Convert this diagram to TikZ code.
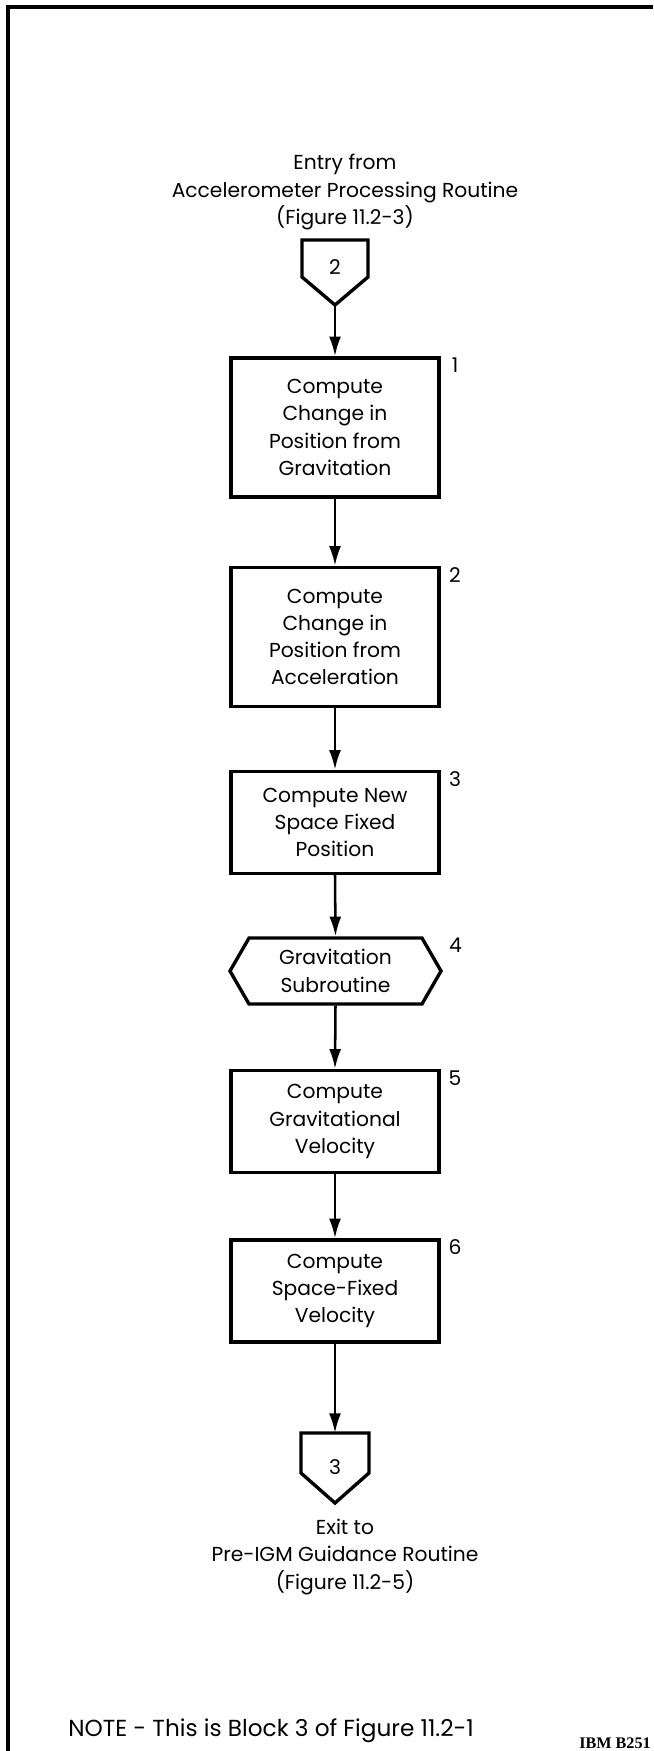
\documentclass[tikz,border=0pt]{standalone}
\usepackage{fontspec}
\setmainfont{Poppins}
\newfontfamily\ibmfont{Liberation Serif}
\usetikzlibrary{positioning,arrows.meta,calc,shapes.symbols}
\newcommand{\flowfont}{\fontsize{14.4}{19.4}\selectfont}

\begin{document}
\begin{tikzpicture}[x=0.025cm, y=-0.025cm,
    txt/.style={inner sep=0pt, align=center, font=\flowfont},
    blk/.style={draw, line width=2.4pt, minimum width=5.2cm, inner sep=0pt, align=center, font=\flowfont},
    tall/.style={minimum height=3.475cm},
    short/.style={minimum height=2.55cm},
    sub/.style={draw, line width=2.4pt, shape=signal, signal to=east and west, signal pointer angle=120,
      minimum width=5.275cm, minimum height=1.65cm, inner sep=0pt, align=center, font=\flowfont},
    outl/.style={line width=2.4pt, line join=miter},
    flow/.style={line width=1.8pt, -{Latex[length=14pt,width=8.5pt]}},
    num/.style={inner sep=0pt, font=\flowfont}]
  \useasboundingbox (0,0) rectangle (653,1751);
  % page frame
  \draw[line width=2.2pt] (8,1751) -- (8,7) -- (653,7);

  % entry connector
  \node[txt] (entry) at (345,192) {Entry from\\Accelerometer Processing Routine\\(Figure 11.2-3)};
  \node[txt] (c2) at (335,267) {2};
  \draw[outl] ($(c2)+(-33,-27)$) -- ++(66,0) -- ++(0,37) -- ++(-33,28) -- ++(-33,-28) -- cycle;
  \coordinate (c2tip) at ($(c2)+(0,38)$);

  % blocks
  \node[blk, tall] (b1) at (335,427.5) {Compute\\Change in\\Position from\\Gravitation};
  \node[blk, tall] (b2) at (335,637) {Compute\\Change in\\Position from\\Acceleration};
  \node[blk, short] (b3) at (335,822.5) {Compute New\\Space Fixed\\Position};
  \node[sub] (b4) at (335.5,971) {Gravitation\\Subroutine};
  \node[blk, short] (b5) at (335,1121.5) {Compute\\Gravitational\\Velocity};
  \node[blk, short] (b6) at (335,1291) {Compute\\Space-Fixed\\Velocity};
  \foreach \b/\n in {b1/1,b2/2,b3/3,b4/4,b5/5,b6/6}
    \node[num] (n\n) at ($(\b.north)+(120,9)$) {\n};

  % exit connector
  \node[txt] (c3) at (335,1467) {3};
  \draw[outl] ($(c3)+(-34,-34)$) -- ++(68,0) -- ++(0,40) -- ++(-34,30) -- ++(-34,-30) -- cycle;
  \coordinate (c3top) at ($(c3)+(0,-34)$);
  \node[txt] (exit) at (345,1557) {Exit to\\Pre-IGM Guidance Routine\\(Figure 11.2-5)};

  % flow lines
  \draw[flow] (c2tip) -- (b1.north);
  \foreach \a/\b in {b1/b2,b2/b3,b3/b4,b4/b5,b5/b6}
    \draw[flow] (\a.south) -- (\b.north);
  \draw[flow] (b6.south) -- (c3top);

  \node[txt, anchor=west, font=\fontsize{16.5}{20}\selectfont] (note) at (68,1731) {NOTE - This is Block 3 of Figure 11.2-1};
  \node[anchor=east, inner sep=0pt, font=\ibmfont\bfseries\fontsize{11.5}{13}\selectfont] (ibm) at (651,1743) {IBM B251};
\end{tikzpicture}
\end{document}
